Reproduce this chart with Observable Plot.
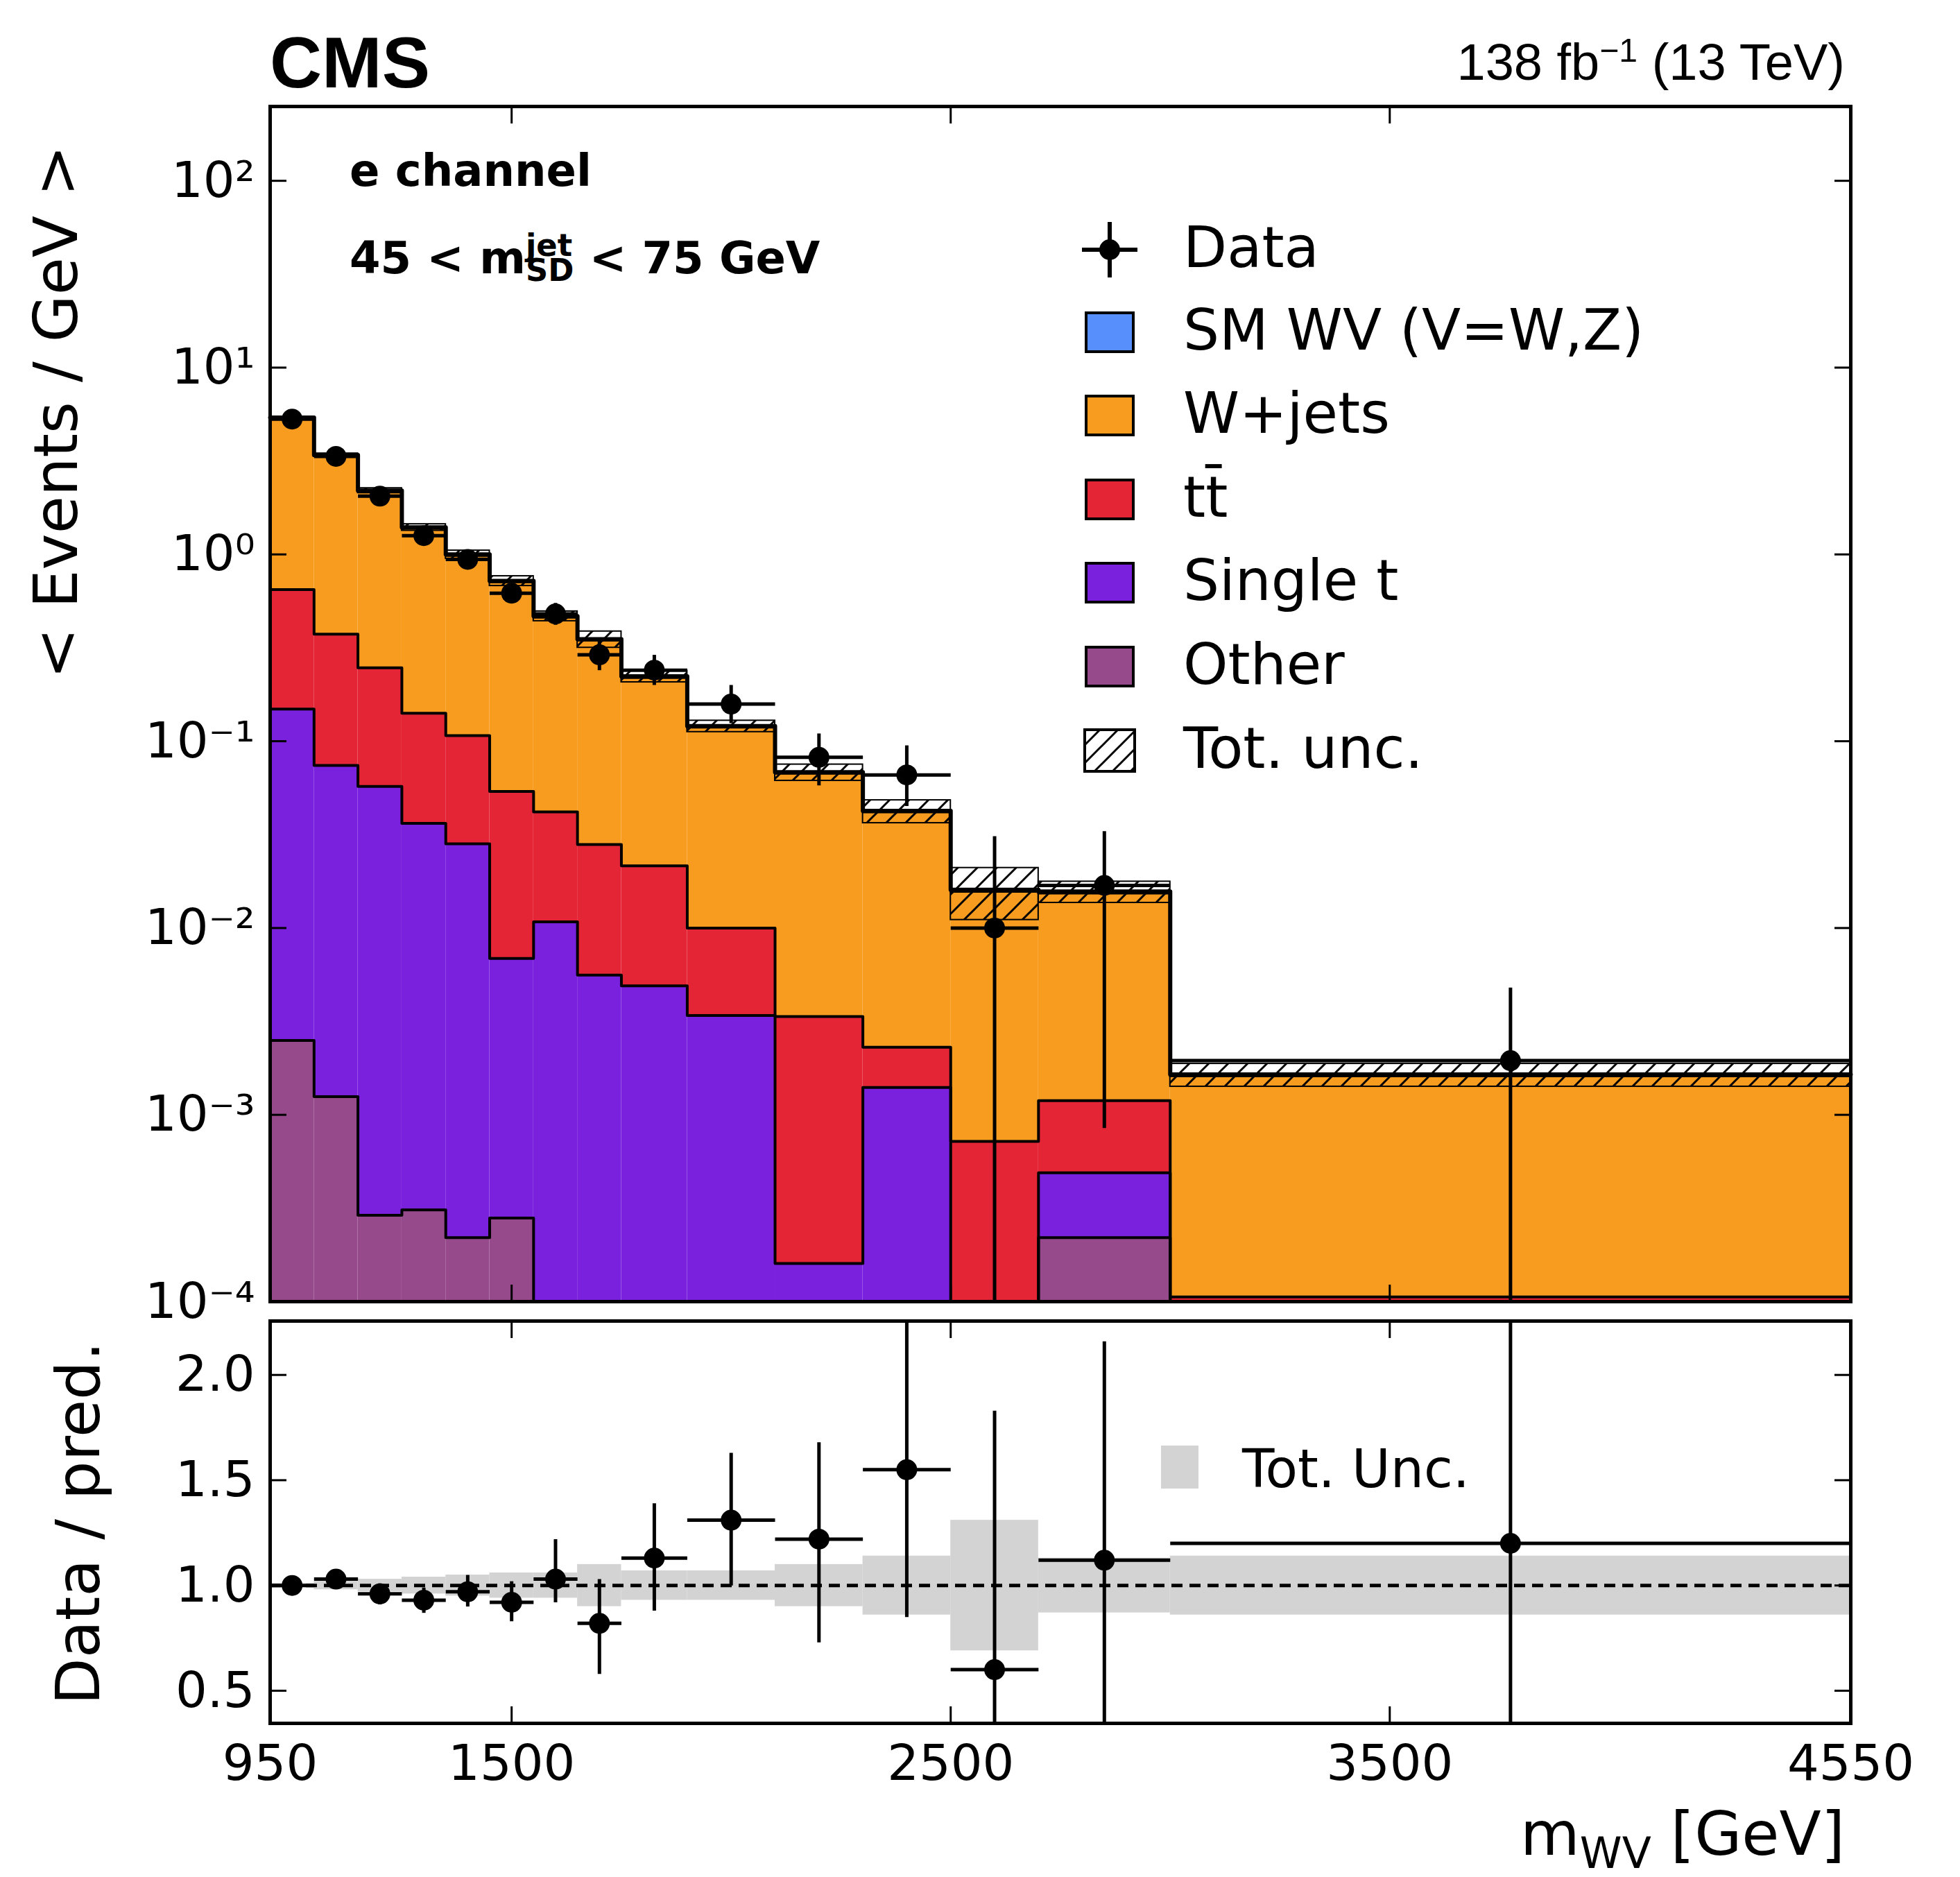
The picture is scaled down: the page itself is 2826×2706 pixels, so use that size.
<!DOCTYPE html>
<html><head><meta charset="utf-8">
<script src="https://cdn.jsdelivr.net/npm/d3@7"></script>
<script src="https://cdn.jsdelivr.net/npm/@observablehq/plot@0.6"></script>
<style>
body{margin:0;background:#fff;font-family:"DejaVu Sans",sans-serif;}
#wrap{position:relative;width:2826px;height:2706px;}
#wrap svg{position:absolute;left:0;}
.t{position:absolute;white-space:nowrap;color:#000;line-height:1;}
.box{position:absolute;width:72px;height:60px;border:4px solid #000;box-sizing:border-box;}
</style></head><body>
<div id="wrap"></div>
<script>
(function(){
const edges=[950,1050,1150,1250,1350,1450,1550,1650,1750,1900,2100,2300,2500,2700,3000,4550];
// stacked component values (events / GeV)
const other  =[0.0025,0.00125,0.00029,0.00031,0.00022,0.00028,0,0,0,0,0,0,0,0.00022,0];
const singlet=[0.146,0.073,0.057,0.036,0.028,0.0066,0.0108,0.0056,0.0049,0.0034,0.00016,0.0014,0,0.00027,0];
const ttbar  =[0.50,0.30,0.19,0.105,0.079,0.047,0.031,0.0224,0.0166,0.0066,0.0032,0.0009,0.00072,0.0007,0.000106];
const wjets  =[4.70,3.00,1.93,1.24,0.88,0.66,0.42,0.32,0.198,0.109,0.064,0.0395,0.015,0.0142,0.00151];
const smwv   =[0.05,0.03,0.02,0.015,0.012,0.008,0.006,0.004,0.003,0.0015,0.0009,0.0006,0.0003,0.0003,0.00003];
const totUnc =[0.01,0.02,0.03,0.04,0.05,0.06,0.06,0.10,0.07,0.07,0.10,0.14,0.31,0.13,0.14];
const dataVal=[5.3,3.35,2.05,1.26,0.94,0.62,0.48,0.29,0.24,0.158,0.082,0.066,0.0100,0.0169,0.00195];
const dataLo =[5.0,3.2,1.95,1.18,0.87,0.56,0.42,0.24,0.20,0.125,0.058,0.045,0.00001,0.00085,0.00001];
const dataHi =[5.6,3.55,2.15,1.35,1.0,0.69,0.55,0.345,0.29,0.20,0.11,0.095,0.031,0.033,0.0048];
const ratio  =[1.0,1.03,0.96,0.93,0.97,0.92,1.03,0.82,1.13,1.31,1.22,1.55,0.60,1.12,1.20];
const ratioLo=[0.98,1.0,0.91,0.87,0.90,0.83,0.92,0.58,0.88,1.0,0.73,0.85,0.0,0.0,0.0];
const ratioHi=[1.02,1.06,1.01,0.99,1.05,1.02,1.22,1.03,1.39,1.63,1.68,2.6,1.83,2.16,2.6];
const yTicks=[1e-4,1e-3,1e-2,1e-1,1,10,100];
const yTickLabels=["10⁻⁴","10⁻³","10⁻²","10⁻¹","10⁰","10¹","10²"];
const xTicks=[950,1500,2500,3500,4550];
const rTicks=[0.5,1.0,1.5,2.0];

const n=edges.length-1;
const comps=[["Other",other,"#964a8b"],["Single t",singlet,"#7a21dd"],["tt",ttbar,"#e42536"],["W+jets",wjets,"#f89c20"],["SM WV",smwv,"#5790fc"]];
const rects=[],steps=[];
const cum=new Array(n).fill(0);
comps.forEach(([name,vals,col])=>{
  for(let i=0;i<n;i++){
    const lo=cum[i],hi=cum[i]+vals[i];
    if(vals[i]>0) rects.push({x1:edges[i],x2:edges[i+1],y1:Math.max(lo,1e-6),y2:hi,c:col});
    cum[i]=hi;
    steps.push({x:edges[i],y:Math.max(hi,1e-6),k:name});
    steps.push({x:edges[i+1],y:Math.max(hi,1e-6),k:name});
  }
});
const bins=d3.range(n).map(i=>({x1:edges[i],x2:edges[i+1],xc:(edges[i]+edges[i+1])/2,tot:cum[i],u:totUnc[i],
  d:dataVal[i],dlo:dataLo[i],dhi:dataHi[i],r:ratio[i],rlo:ratioLo[i],rhi:ratioHi[i]}));

const FS=72,LW=5,TS=24;
const wrap=document.getElementById("wrap");
const mainPlot=Plot.plot({
  width:2826,height:1900,marginLeft:389,marginRight:158,marginTop:153,marginBottom:24,
  style:{fontFamily:"DejaVu Sans",fontSize:FS+"px",background:"transparent",overflow:"visible"},
  x:{domain:[950,4550]},
  y:{type:"log",domain:[1e-4,250],clamp:true},
  marks:[
    Plot.rect(rects,{x1:"x1",x2:"x2",y1:"y1",y2:"y2",fill:"c"}),
    Plot.rect(bins,{x1:"x1",x2:"x2",y1:d=>d.tot*(1-d.u),y2:d=>d.tot*(1+d.u),fill:"white",fillOpacity:0.0,stroke:"#000",strokeWidth:2,className:"hatch"}),
    Plot.line(steps,{x:"x",y:"y",z:"k",stroke:"#000",strokeWidth:4}),
    Plot.line(steps.filter(d=>d.k==="SM WV"),{x:"x",y:"y",stroke:"#000",strokeWidth:6}),
    Plot.link(bins,{x1:"x1",x2:"x2",y1:"d",y2:"d",stroke:"#000",strokeWidth:LW}),
    Plot.link(bins,{x:"xc",y1:"dlo",y2:"dhi",stroke:"#000",strokeWidth:LW}),
    Plot.dot(bins,{x:"xc",y:"d",r:15,fill:"#000"}),
    Plot.axisY({ticks:yTicks,tickFormat:d=>yTickLabels[yTicks.indexOf(d)],tickSize:-TS,tickPadding:TS+22,strokeWidth:3,fontSize:FS}),
    Plot.axisY({anchor:"right",ticks:yTicks,tickFormat:()=>"",tickSize:-TS,strokeWidth:3}),
    Plot.axisX({ticks:xTicks,tickFormat:()=>"",tickSize:-TS,strokeWidth:3}),
    Plot.axisX({anchor:"top",ticks:xTicks,tickFormat:()=>"",tickSize:-TS,strokeWidth:3}),
    Plot.frame({stroke:"#000",strokeWidth:LW})
  ]
});
mainPlot.style.top="0px";
wrap.appendChild(mainPlot);
const ns="http://www.w3.org/2000/svg";
const defs=document.createElementNS(ns,"defs");
defs.innerHTML='<pattern id="hatch" patternUnits="userSpaceOnUse" width="28" height="28"><path d="M-7,7 L7,-7 M0,28 L28,0 M21,35 L35,21" stroke="#000" stroke-width="3"/></pattern>';
mainPlot.insertBefore(defs,mainPlot.firstChild);
mainPlot.querySelectorAll("g.hatch rect").forEach(r=>{r.setAttribute("fill","url(#hatch)");r.setAttribute("fill-opacity","1");});
const hg=mainPlot.querySelector("g.hatch"); if(hg){hg.setAttribute("fill","url(#hatch)");hg.setAttribute("fill-opacity","1");}

const rp=Plot.plot({
  width:2826,height:826,marginLeft:389,marginRight:158,marginTop:24,marginBottom:222,
  style:{fontFamily:"DejaVu Sans",fontSize:FS+"px",background:"transparent",overflow:"visible"},
  x:{domain:[950,4550]},
  y:{domain:[0.345,2.256],clamp:true},
  marks:[
    Plot.rect(bins,{x1:"x1",x2:"x2",y1:d=>1-d.u,y2:d=>1+d.u,fill:"#d3d3d3"}),
    Plot.ruleY([1],{stroke:"#000",strokeWidth:5,strokeDasharray:"16,10"}),
    Plot.link(bins,{x1:"x1",x2:"x2",y1:"r",y2:"r",stroke:"#000",strokeWidth:LW}),
    Plot.link(bins,{x:"xc",y1:"rlo",y2:"rhi",stroke:"#000",strokeWidth:LW}),
    Plot.dot(bins,{x:"xc",y:"r",r:15,fill:"#000"}),
    Plot.axisY({ticks:rTicks,tickFormat:d3.format(".1f"),tickSize:-TS,tickPadding:TS+22,strokeWidth:3,fontSize:FS}),
    Plot.axisY({anchor:"right",ticks:rTicks,tickFormat:()=>"",tickSize:-TS,strokeWidth:3}),
    Plot.axisX({ticks:xTicks,tickFormat:d=>String(d),tickSize:-TS,tickPadding:TS+30,strokeWidth:3,fontSize:FS}),
    Plot.axisX({anchor:"top",ticks:xTicks,tickFormat:()=>"",tickSize:-TS,strokeWidth:3}),
    Plot.frame({stroke:"#000",strokeWidth:LW})
  ]
});
rp.style.top="1880px";
wrap.appendChild(rp);

function txt(html,css){const d=document.createElement("div");d.className="t";d.innerHTML=html;Object.assign(d.style,css);wrap.appendChild(d);return d;}
txt("CMS",{left:"389px",top:"38px",fontSize:"104px",fontWeight:"bold",fontFamily:"Liberation Sans, Arial"});
txt("138 fb<sup style='font-size:0.65em'>−1</sup> (13 TeV)",{right:"166px",top:"48px",fontSize:"74px",fontFamily:"Liberation Sans, Arial"});
txt("e channel",{left:"504px",top:"214px",fontSize:"64px",fontWeight:"bold"});
txt("45 &lt; m<span style='display:inline-block;vertical-align:-0.25em;line-height:0.8;font-size:0.7em;text-align:left'>jet<br>SD</span> &lt; 75 GeV",{left:"504px",top:"336px",fontSize:"64px",fontWeight:"bold"});
txt("&lt; Events / GeV &gt;",{left:"81px",top:"594px",fontSize:"88px",transform:"translate(-50%,-50%) rotate(-90deg)"});
txt("Data / pred.",{left:"113px",top:"2196px",fontSize:"88px",transform:"translate(-50%,-50%) rotate(-90deg)"});
txt("m<sub style='font-size:0.7em'>WV</sub> [GeV]",{right:"166px",top:"2600px",fontSize:"88px"});
const legY=[360,479,599,720,840,961,1082];
const legItems=[["Data",null],["SM WV (V=W,Z)","#5790fc"],["W+jets","#f89c20"],["tt̄","#e42536"],["Single t","#7a21dd"],["Other","#964a8b"],["Tot. unc.","hatch"]];
legItems.forEach(([lab,col],i)=>{
  const y=legY[i];
  if(col===null){
    const s=document.createElementNS(ns,"svg");s.setAttribute("width","100");s.setAttribute("height","100");
    s.style.left="1550px";s.style.top=(y-50)+"px";
    s.innerHTML='<line x1="10" y1="50" x2="90" y2="50" stroke="#000" stroke-width="6"/><line x1="50" y1="10" x2="50" y2="90" stroke="#000" stroke-width="6"/><circle cx="50" cy="50" r="15"/>';
    wrap.appendChild(s);
  } else if(col==="hatch"){
    const s=document.createElementNS(ns,"svg");s.setAttribute("width","76");s.setAttribute("height","64");
    s.style.left="1562px";s.style.top=(y-32)+"px";
    s.innerHTML='<defs><pattern id="h2" patternUnits="userSpaceOnUse" width="26" height="26"><path d="M-6,6 L6,-6 M0,26 L26,0 M20,32 L32,20" stroke="#000" stroke-width="3"/></pattern></defs><rect x="2" y="2" width="72" height="60" fill="url(#h2)" stroke="#000" stroke-width="4"/>';
    wrap.appendChild(s);
  } else {
    const b=document.createElement("div");b.className="box";b.style.left="1564px";b.style.top=(y-30)+"px";b.style.background=col;wrap.appendChild(b);
  }
  txt(lab,{left:"1706px",top:(y-44)+"px",fontSize:"82px"});
});
const gb=document.createElement("div");Object.assign(gb.style,{position:"absolute",left:"1674px",top:"2084px",width:"54px",height:"62px",background:"#d3d3d3"});wrap.appendChild(gb);
txt("Tot. Unc.",{left:"1791px",top:"2080px",fontSize:"76px"});
})();
</script>
</body></html>
